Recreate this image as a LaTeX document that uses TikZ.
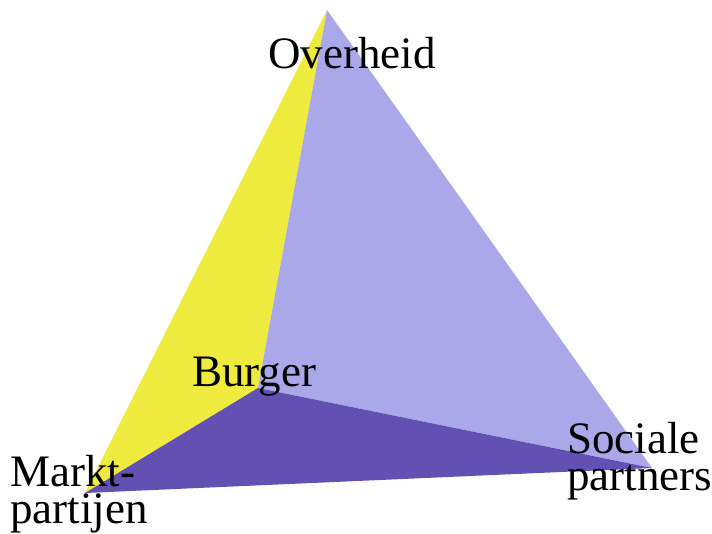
\documentclass[tikz,border=0pt]{standalone}
\usepackage{fontspec}
\setmainfont{Liberation Serif}
\usetikzlibrary{positioning}

\definecolor{faceyellow}{RGB}{238,234,62}
\definecolor{facelight}{RGB}{170,168,232}
\definecolor{facedark}{RGB}{98,80,178}

\begin{document}
\begin{tikzpicture}[
        x=1pt, y=-1pt,
        yellowface/.style={fill=faceyellow, draw=none},
        lightface/.style={fill=facelight, draw=none},
        darkface/.style={fill=facedark, draw=none},
        vertexlabel/.style={font=\fontsize{45}{37}\selectfont, inner sep=0pt, align=left, anchor=base west}
    ]
    \useasboundingbox (0,0) rectangle (712,533);

    % Vertices
    \coordinate (top) at (327,10);
    \coordinate (inner) at (258,388);
    \coordinate (left) at (85,493);
    \coordinate (right) at (652,468);

    % Faces
    \fill[yellowface] (top) -- (left) -- (inner) -- cycle;
    \fill[lightface] (top) -- (inner) -- (right) -- cycle;
    \fill[darkface] (left) -- (inner) -- (right) -- cycle;

    % Labels (base = last line)
    \node[vertexlabel] (overheid) at (268,68) {Overheid};
    \node[vertexlabel] (burger) at (192,386) {Burger};
    \node[vertexlabel] (markt) at (10,523) {Markt-\\partijen};
    \node[vertexlabel] (sociale) at (567,490) {Sociale\\partners};

\end{tikzpicture}
\end{document}
